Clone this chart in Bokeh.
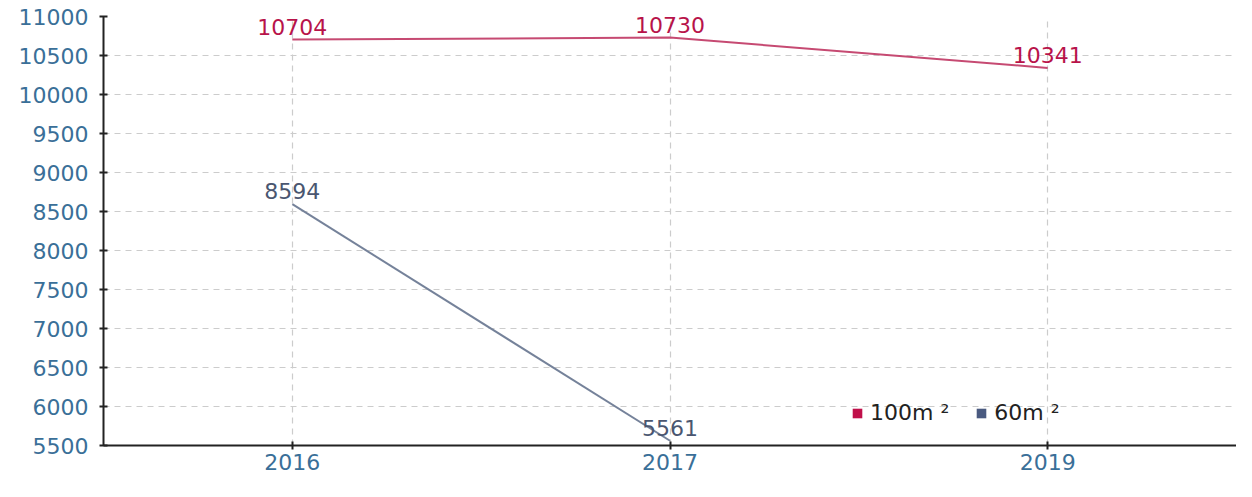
from bokeh.plotting import figure
from bokeh.models import ColumnDataSource, FactorRange, Range1d, Legend, LegendItem, FixedTicker
from bokeh.core.properties import value
from bokeh.embed import file_html
from bokeh.resources import INLINE

years = ["2016", "2017", "2019"]
s100_years = ["2016", "2017", "2019"]
s100_values = [10704, 10730, 10341]
s60_years = ["2016", "2017"]
s60_values = [8594, 5561]
y_ticks = [5500, 6000, 6500, 7000, 7500, 8000, 8500, 9000, 9500, 10000, 10500, 11000]
labels = ["100m ²", "60m ²"]

FONT = "DejaVu Sans"
FS = "22px"
C100_LINE = "#c64a72"
C100_TEXT = "#b8134a"
C100_SQ = "#c0104a"
C60_LINE = "#75829a"
C60_TEXT = "#4a5670"
C60_SQ = "#4a5a80"
TICK_COLOR = "#3a6f98"

p = figure(width=1236, height=481, x_range=FactorRange(factors=years),
           y_range=Range1d(5500, 11000), output_backend="svg",
           toolbar_location=None, min_border_left=103, min_border_right=0,
           min_border_top=16, min_border_bottom=36)
p.outline_line_color = None

src100 = ColumnDataSource(dict(x=s100_years, y=s100_values, t=[str(v) for v in s100_values]))
src60 = ColumnDataSource(dict(x=s60_years, y=s60_values, t=[str(v) for v in s60_values]))

p.line("x", "y", source=src100, line_color=C100_LINE, line_width=2)
p.line("x", "y", source=src60, line_color=C60_LINE, line_width=2)

p.text("x", "y", text="t", source=src100, text_align="center", text_baseline="bottom",
       y_offset=-5, text_font=value(FONT), text_font_size=FS, text_color=C100_TEXT)
p.text("x", "y", text="t", source=src60, text_align="center", text_baseline="bottom",
       y_offset=-5, text_font=value(FONT), text_font_size=FS, text_color=C60_TEXT)

# legend-only squares (no visible data)
nan_src = ColumnDataSource(dict(l=[float("nan")], r=[float("nan")],
                                b=[float("nan")], t=[float("nan")]))
r_l100 = p.quad(left="l", right="r", bottom="b", top="t", source=nan_src,
                fill_color=C100_SQ, line_color=None)
r_l60 = p.quad(left="l", right="r", bottom="b", top="t", source=nan_src,
               fill_color=C60_SQ, line_color=None)

legend = Legend(items=[LegendItem(label=labels[0], renderers=[r_l100]),
                       LegendItem(label=labels[1], renderers=[r_l60])],
                orientation="horizontal", location=(748, 20),
                background_fill_alpha=0, border_line_color=None,
                padding=0, margin=0, spacing=26, glyph_width=12, glyph_height=12,
                label_standoff=7, label_text_font=FONT, label_text_font_size=FS,
                label_text_color="#222222", label_height=24)
p.add_layout(legend, "center")

# axes
p.yaxis.ticker = FixedTicker(ticks=y_ticks)
for ax in (p.xaxis[0], p.yaxis[0]):
    ax.axis_line_color = "#222222"
    ax.axis_line_width = 2
    ax.major_tick_line_color = "#222222"
    ax.major_tick_line_width = 2
    ax.major_tick_in = 4
    ax.major_tick_out = 4
    ax.minor_tick_line_color = None
    ax.major_label_text_font = FONT
    ax.major_label_text_font_size = FS
    ax.major_label_text_color = TICK_COLOR
p.yaxis.major_label_standoff = 11
p.xaxis.major_label_standoff = 4

for g in (p.xgrid[0], p.ygrid[0]):
    g.grid_line_color = "#cccccc"
    g.grid_line_dash = "6 5"
    g.grid_line_width = 1.2

open("out.html", "w").write(file_html(p, INLINE))
